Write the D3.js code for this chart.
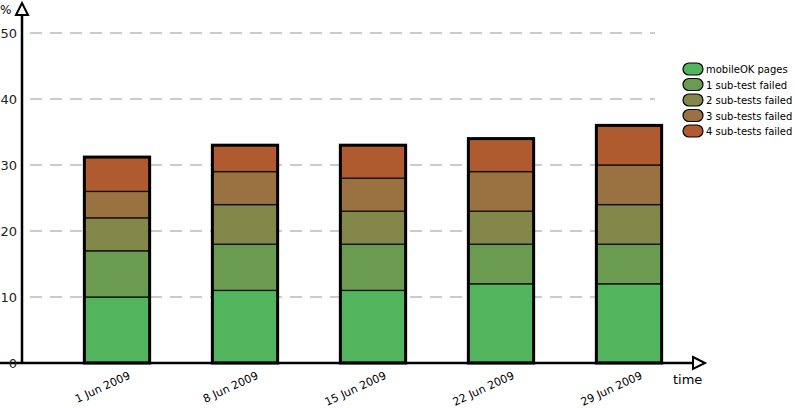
<!DOCTYPE html>
<html><head><meta charset="utf-8">
<script src="https://cdn.jsdelivr.net/npm/d3@7"></script>
<style>body{margin:0;background:#fff}text{font-family:"DejaVu Sans",sans-serif}</style>
</head><body><svg id="c" width="795" height="408"></svg>
<script>
const categories = ["1 Jun 2009","8 Jun 2009","15 Jun 2009","22 Jun 2009","29 Jun 2009"];
const seriesNames = ["mobileOK pages","1 sub-test failed","2 sub-tests failed","3 sub-tests failed","4 sub-tests failed"];
const mobileOK = [10,11,11,12,12];
const fail1 = [7,7,7,6,6];
const fail2 = [5,6,5,5,6];
const fail3 = [4,5,5,6,6];
const fail4 = [5.2,4,5,5,6];
const yTicks = [0,10,20,30,40,50];
const colors = ["#52b45c","#6a9b50","#83884a","#9a7140","#b05a30"];

const svg = d3.select("#c");
const series = [mobileOK,fail1,fail2,fail3,fail4];
const data = categories.map((c,i)=>{const o={cat:c};seriesNames.forEach((s,j)=>o[s]=series[j][i]);return o;});
const stacked = d3.stack().keys(seriesNames)(data);
const x = d3.scaleBand().domain(categories).range([53,693]).paddingInner(0.49).paddingOuter(0.245);
const y = d3.scaleLinear().domain([0,50]).range([363,33]);

svg.append("g").selectAll("line").data(yTicks.filter(d=>d>0)).join("line")
 .attr("x1",30).attr("x2",655).attr("y1",d=>y(d)).attr("y2",d=>y(d))
 .attr("stroke","#999").attr("stroke-dasharray","12,8");
stacked.forEach((s,j)=>{
  svg.append("g").selectAll("rect").data(s).join("rect")
   .attr("x",d=>x(d.data.cat)).attr("width",x.bandwidth())
   .attr("y",d=>y(d[1])).attr("height",d=>y(d[0])-y(d[1]))
   .attr("fill",colors[j]).attr("stroke","#111").attr("stroke-width",1.3);
});
const topLayer = stacked[stacked.length-1];
svg.append("g").selectAll("rect").data(topLayer).join("rect")
 .attr("x",d=>x(d.data.cat)).attr("width",x.bandwidth())
 .attr("y",d=>y(d[1])).attr("height",d=>y(0)-y(d[1]))
 .attr("fill","none").attr("stroke","#000").attr("stroke-width",3);
svg.append("line").attr("x1",22).attr("x2",22).attr("y1",363).attr("y2",10).attr("stroke","#000").attr("stroke-width",2.5);
svg.append("line").attr("x1",0).attr("x2",695).attr("y1",363).attr("y2",363).attr("stroke","#000").attr("stroke-width",2.5);
svg.append("path").attr("d","M16,15 L22,3 L28,15 Z").attr("fill","#fff").attr("stroke","#000").attr("stroke-width",2);
svg.append("path").attr("d","M693,357 L705,363 L693,369 Z").attr("fill","#fff").attr("stroke","#000").attr("stroke-width",2);
svg.append("g").selectAll("text").data(yTicks).join("text")
 .attr("x",17).attr("y",d=>y(d)+5).attr("text-anchor","end").attr("font-size",13).attr("fill","#222").text(d=>d);
svg.append("text").attr("x",0).attr("y",14).attr("font-size",12).text("%");
svg.append("text").attr("x",673).attr("y",384).attr("font-size",13).text("time");
svg.append("g").selectAll("text").data(categories).join("text")
 .attr("transform",d=>`translate(${x(d)+x.bandwidth()/2+14},${378}) rotate(-25)`)
 .attr("text-anchor","end").attr("font-size",11).text(d=>d);
const lg = svg.append("g");
seriesNames.forEach((s,j)=>{
  lg.append("rect").attr("x",683).attr("y",63+j*15.5).attr("width",20).attr("height",12).attr("rx",6)
   .attr("fill",colors[j]).attr("stroke","#000").attr("stroke-width",1.2);
  lg.append("text").attr("x",706).attr("y",73+j*15.5).attr("font-size",10).text(s);
});
</script></body></html>
